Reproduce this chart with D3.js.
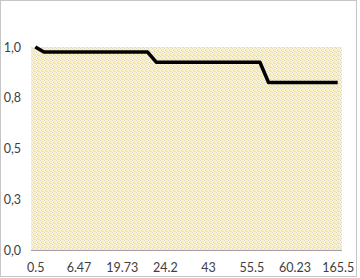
<!DOCTYPE html>
<html>
<head>
<meta charset="utf-8">
<script src="https://cdn.jsdelivr.net/npm/d3@7"></script>
<style>
  body { margin: 0; background: #fff; }
  svg { display: block; }
  .tick text { font-family: Lato, "Open Sans", sans-serif; font-size: 12.5px; fill: #404040; }
</style>
</head>
<body>
<svg id="chart" width="360" height="278"></svg>
<script>
// category labels (only every 5th one is shown on the axis)
const categories = ["0.5","1.2","2.1","3.5","4.93","6.47","8.1","10.5","13.2","16.8",
  "19.73","20.5","21.3","22.1","23.4","24.2","27.5","30.1","34.6","38.9",
  "43","45.7","48.2","50.5","53.1","55.5","56.8","57.7","58.4","59.3",
  "60.23","72.5","88.1","104.6","131.2","165.5"]
const survival = [1.0,0.975,0.975,0.975,0.975,0.975,0.975,0.975,0.975,0.975,
  0.975,0.975,0.975,0.975,0.925,0.925,0.925,0.925,0.925,0.925,
  0.925,0.925,0.925,0.925,0.925,0.925,0.925,0.825,0.825,0.825,
  0.825,0.825,0.825,0.825,0.825,0.825]
const yTicks = [0, 0.25, 0.5, 0.75, 1]

const svg = d3.select("#chart")
const plot = {left: 31, right: 342, top: 47, bottom: 250}

const locale = d3.formatLocale({decimal: ",", thousands: ".", grouping: [3], currency: ["", ""]})
const fmt = locale.format(".1f")

// outer dotted frame
svg.append("rect")
    .attr("x", 0.5).attr("y", 0.5)
    .attr("width", 356).attr("height", 276)
    .attr("fill", "#fff")
    .attr("stroke", "#8c8c8c")
    .attr("stroke-dasharray", "1,1")

// dotted pattern for plot area
const defs = svg.append("defs")
const pat = defs.append("pattern")
    .attr("id", "dots")
    .attr("width", 4).attr("height", 4)
    .attr("patternUnits", "userSpaceOnUse")
pat.append("rect").attr("width", 4).attr("height", 4).attr("fill", "#fdf1c6")
;[[0,0,"#d6d6d6"],[2,1,"#f7d9d4"],[1,2,"#d6d6d6"],[3,3,"#f7d9d4"],
  [2,3,"#dcdcdc"]].forEach(p => {
    pat.append("rect").attr("x", p[0]).attr("y", p[1])
        .attr("width", 1).attr("height", 1).attr("fill", p[2])
})

svg.append("rect")
    .attr("x", plot.left).attr("y", plot.top)
    .attr("width", plot.right - plot.left)
    .attr("height", plot.bottom - plot.top)
    .attr("fill", "url(#dots)")

const x = d3.scalePoint()
    .domain(categories)
    .range([plot.left, plot.right])
    .padding(0.5)

const y = d3.scaleLinear()
    .domain([0, 1])
    .range([plot.bottom, plot.top])

const xAxis = svg.append("g")
    .attr("transform", `translate(0, ${plot.bottom})`)
    .call(d3.axisBottom(x)
        .tickValues(categories.filter((d, i) => i % 5 == 0))
        .tickSize(0).tickPadding(13))
xAxis.select(".domain")
    .attr("stroke", "#a0a0a0")
    .attr("d", `M${plot.left},0.5H${plot.right}`)

const yAxis = svg.append("g")
    .attr("transform", `translate(${plot.left}, 0)`)
    .call(d3.axisLeft(y).tickValues(yTicks).tickFormat(fmt).tickSize(0).tickPadding(10))
yAxis.select(".domain").remove()

const line = d3.line()
    .x((d, i) => x(categories[i]))
    .y(d => y(d))

svg.append("path")
    .datum(survival)
    .attr("fill", "none")
    .attr("stroke", "#000")
    .attr("stroke-width", 3.5)
    .attr("stroke-linejoin", "round")
    .attr("d", line)
</script>
</body>
</html>
